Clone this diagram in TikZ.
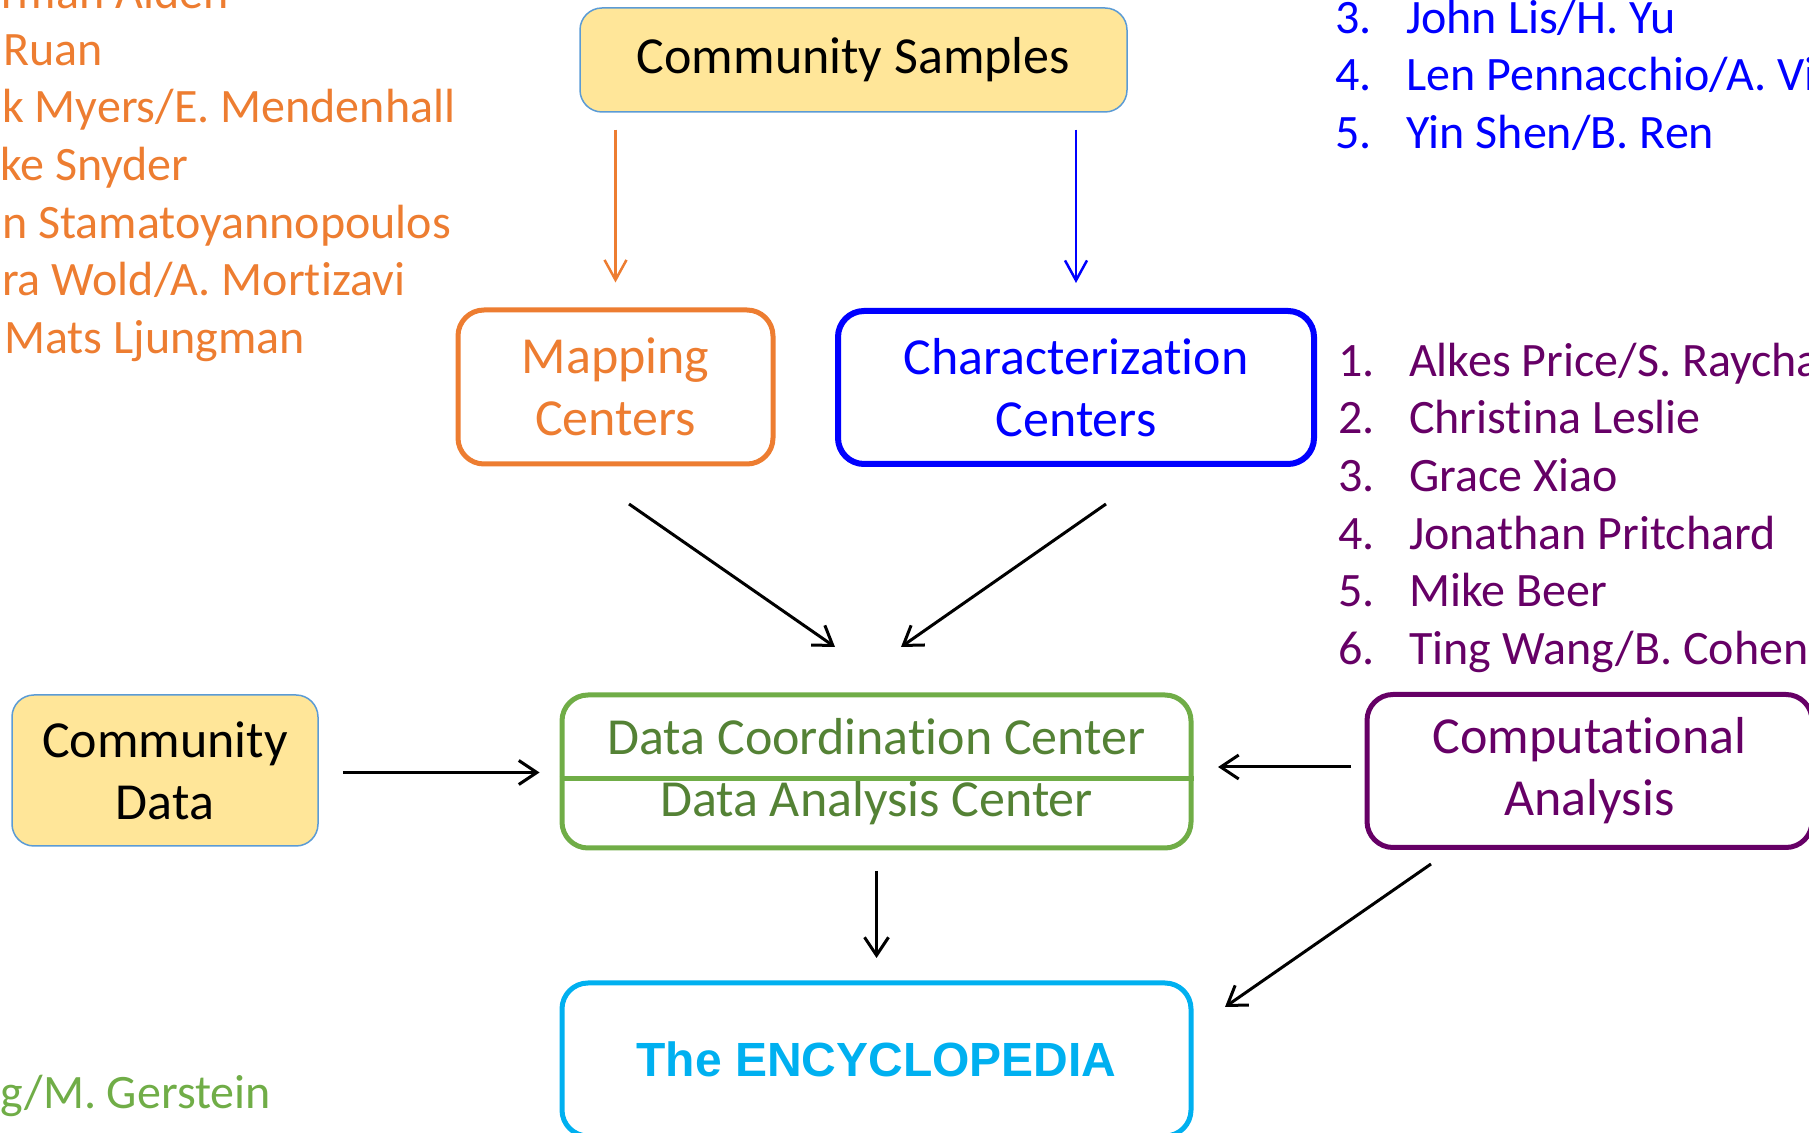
\documentclass[tikz,border=0pt]{standalone}
\usepackage{fontspec}
\setmainfont{Carlito}[Ligatures=CommonOff]
\newfontfamily\headfont{Liberation Sans}
\usetikzlibrary{positioning,arrows.meta}

\definecolor{sampleyellow}{HTML}{FFE699}
\definecolor{edgeblue}{HTML}{5B9BD5}
\definecolor{maporange}{HTML}{ED7D31}
\definecolor{charblue}{HTML}{0000FF}
\definecolor{dccgreen}{HTML}{70AD47}
\definecolor{dcctext}{HTML}{548235}
\definecolor{comppurple}{HTML}{660066}
\definecolor{encycyan}{HTML}{00B0F0}

\newcommand{\boxfont}{\fontsize{52}{62}\selectfont}
\newcommand{\namefont}{\fontsize{48}{57.6}\selectfont}
\newcommand{\member}[2]{\makebox[71pt][l]{#1}#2}

\tikzset{
  sourcebox/.style={draw=edgeblue, fill=sampleyellow, line width=1.5pt, rounded corners=22pt, font=\boxfont, align=center, inner sep=0pt},
  centerbox/.style={draw, line width=5pt, rounded corners=26pt, font=\boxfont, align=center, inner sep=0pt},
  names/.style={font=\namefont, inner sep=0pt, anchor=mid west},
  flow/.style={-{Straight Barb[length=18pt,width=24pt]}, line width=3pt},
  feed/.style={-{Straight Barb[length=20pt,width=22pt]}, line width=2.5pt},
}

\begin{document}
\begin{tikzpicture}[x=1pt, y=1pt]
    \useasboundingbox (0,0) rectangle (1809,1132);

    % boxes
    \node[sourcebox, minimum width=547pt, minimum height=104pt] (samples) at (853.5,1072) {Community Samples};
    \node[centerbox, draw=maporange, text=maporange, minimum width=315pt, minimum height=154pt] (mapping) at (615.5,745) {Mapping\\Centers};
    \node[centerbox, draw=charblue, text=charblue, line width=6pt, minimum width=476pt, minimum height=153pt] (char) at (1076,744.5) {Characterization\\Centers};
    \node[sourcebox, minimum width=306pt, minimum height=151pt] (commdata) at (165,361.5) {Community\\Data};
    \node[centerbox, draw=dccgreen, text=dcctext, minimum width=629pt, minimum height=153pt] (dcc) at (876.5,360.5) {Data Coordination Center\\Data Analysis Center};
    \node[centerbox, draw=comppurple, text=comppurple, minimum width=445pt, minimum height=153pt] (comp) at (1589.5,361) {Computational\\Analysis};
    \node[centerbox, draw=encycyan, text=encycyan, font=\headfont\bfseries\fontsize{48}{58}\selectfont, minimum width=629pt, minimum height=153pt] (ency) at (876.5,72.5) {The ENCYCLOPEDIA};
    \draw[dccgreen, line width=5pt] (dcc.west |- 0,353) -- (dcc.east |- 0,353);

    % arrows
    \draw[feed, maporange, shorten <=17pt, shorten >=25pt] (samples.south -| mapping.north) -- (mapping.north);
    \draw[feed, charblue, shorten <=17pt, shorten >=25pt] (samples.south -| char.north) -- (char.north);
    \draw[flow] ([xshift=13.5pt, yshift=-37.5pt]mapping.south) -- ([xshift=-41.5pt, yshift=45.5pt]dcc.north);
    \draw[flow] ([xshift=30pt, yshift=-37pt]char.south) -- ([xshift=24.5pt, yshift=45.5pt]dcc.north);
    \draw[flow] ([xshift=24pt, yshift=-2pt]commdata.east) -- ([xshift=-20pt, yshift=-1pt]dcc.west);
    \draw[flow] ([xshift=-13.5pt, yshift=4pt]comp.west) -- ([xshift=24.5pt, yshift=4.5pt]dcc.east);
    \draw[flow, shorten <=20.5pt, shorten >=22.5pt] (dcc.south) -- (ency.north);
    \draw[flow] ([xshift=-158.5pt, yshift=-14pt]comp.south) -- ([xshift=31.5pt, yshift=52.5pt]ency.east);

    % mapping members
    \node[names, text=maporange] (o0) at (1,1126) {rman Alden};
    \node[names, text=maporange] (o1) at (3,1069) {Ruan};
    \node[names, text=maporange] (o2) at (2,1011.4) {k Myers/E. Mendenhall};
    \node[names, text=maporange] (o3) at (0,953.8) {ke Snyder};
    \node[names, text=maporange] (o4) at (2,896.2) {n Stamatoyannopoulos};
    \node[names, text=maporange] (o5) at (2,838.6) {ra Wold/A. Mortizavi};
    \node[names, text=maporange] (o6) at (4,781) {Mats Ljungman};

    % characterization members
    \node[names, text=charblue] (b3) at (1335,1101) {\member{3.}{John Lis/H. Yu}};
    \node[names, text=charblue] (b4) at (1335,1043.4) {\member{4.}{Len Pennacchio/A. Vi}};
    \node[names, text=charblue] (b5) at (1335,985.8) {\member{5.}{Yin Shen/B. Ren}};

    % computational members
    \node[names, text=comppurple] (p1) at (1338,758) {\member{1.}{Alkes Price/S. Raycha}};
    \node[names, text=comppurple] (p2) at (1338,700.4) {\member{2.}{Christina Leslie}};
    \node[names, text=comppurple] (p3) at (1338,642.8) {\member{3.}{Grace Xiao}};
    \node[names, text=comppurple] (p4) at (1338,585.2) {\member{4.}{Jonathan Pritchard}};
    \node[names, text=comppurple] (p5) at (1338,527.6) {\member{5.}{Mike Beer}};
    \node[names, text=comppurple] (p6) at (1338,470) {\member{6.}{Ting Wang/B. Cohen}};

    % analysis member
    \node[names, text=dccgreen] (g1) at (0,26) {g/M. Gerstein};
\end{tikzpicture}
\end{document}
